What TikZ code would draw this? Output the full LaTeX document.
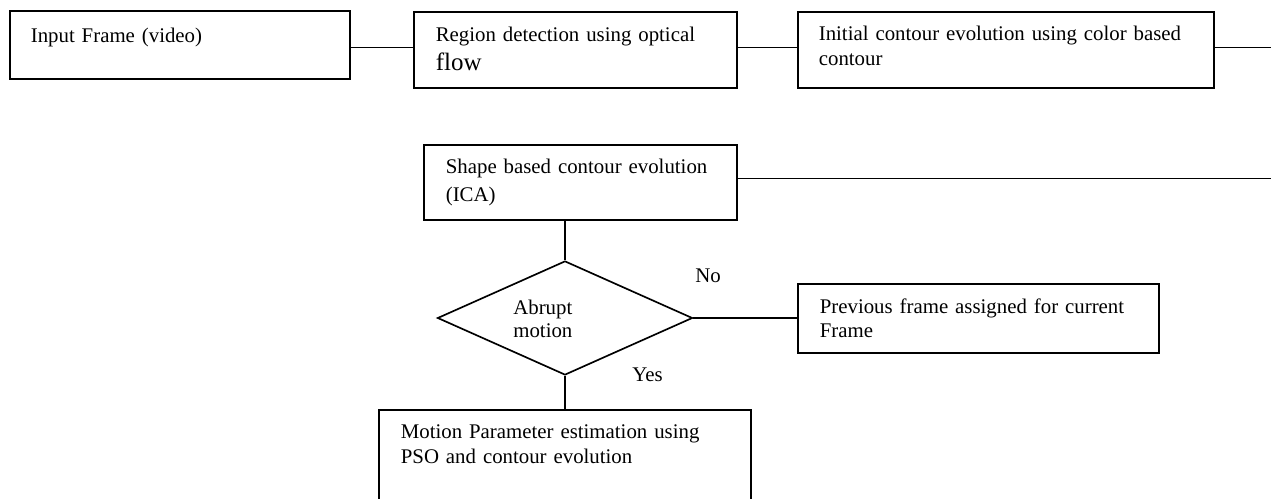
\documentclass[tikz,border=0pt]{standalone}
\usepackage{fontspec}
\setmainfont{Liberation Serif}
\usetikzlibrary{shapes.geometric}

\begin{document}
\begin{tikzpicture}[
    x=0.6pt, y=-0.6pt,
    font=\fontsize{12.5}{15}\selectfont,
    link/.style={black,line width=1pt},
    stepbox/.style={draw=black,line width=1pt,rectangle,anchor=north west,
      align=left,inner ysep=0pt,inner xsep=13pt},
    decision/.style={draw=black,line width=1pt,diamond,inner sep=0pt,
      minimum width=153pt,minimum height=68.4pt},
    answer/.style={anchor=base west,inner sep=0pt},
  ]
  \useasboundingbox (0,0) rectangle (1271,499);

  % Rows where the links run
  \coordinate (toprow) at (0,47.5);
  \coordinate (outtop) at (1271,47.5);
  \coordinate (outmid) at (1271,178.5);

  % Top row of steps
  \node[stepbox,inner xsep=12.6pt,text width=178.8pt,
    text height=19.2pt,text depth=21.6pt] (input) at (9,10)
    {Input Frame (video)};
  \node[stepbox,inner xsep=13.2pt,text width=167.4pt,
    text height=18pt,text depth=27.6pt] (region) at (413,11)
    {Region detection using optical\\[2pt]{\fontsize{15}{17}\selectfont flow}};
  \node[stepbox,inner xsep=12.6pt,text width=224.4pt,
    text height=17.4pt,text depth=28.2pt] (initial) at (797,11)
    {Initial contour evolution using color based\\contour};

  % Shape step and decision
  \node[stepbox,inner xsep=13.2pt,text width=161.4pt,
    text height=17.4pt,text depth=27.6pt] (shape) at (423,144)
    {Shape based contour evolution\\[1.8pt](ICA)};
  \node[decision] (abrupt) at (565,318) {};
  \node[answer,text width=60pt,align=left] (abrupttext) at (513,315)
    {Abrupt\\[-1.2pt]motion};
  \node[stepbox,inner xsep=13.2pt,text width=190.2pt,
    text height=18pt,text depth=23.4pt] (previous) at (797,283)
    {Previous frame assigned for current\\[-0.6pt]Frame};
  \node[stepbox,inner xsep=13.2pt,text width=196.8pt,
    text height=17.4pt,text depth=43.2pt] (motion) at (378,409)
    {Motion Parameter estimation using\\PSO and contour evolution};

  % Answers
  \node[answer] (no) at (695,283) {No};
  \node[answer] (yes) at (632,382) {Yes};

  % Links
  \draw[link] (input.east |- toprow) -- (region.west |- toprow);
  \draw[link] (region.east |- toprow) -- (initial.west |- toprow);
  \draw[link] (initial.east |- outtop) -- (outtop);
  \draw[link] (shape.east |- outmid) -- (outmid);
  \draw[link] (abrupt.north |- shape.south) -- (abrupt.north);
  \draw[link] (abrupt.east) -- (abrupt.east -| previous.west);
  \draw[link] (abrupt.south) -- (abrupt.south |- motion.north);
\end{tikzpicture}
\end{document}
